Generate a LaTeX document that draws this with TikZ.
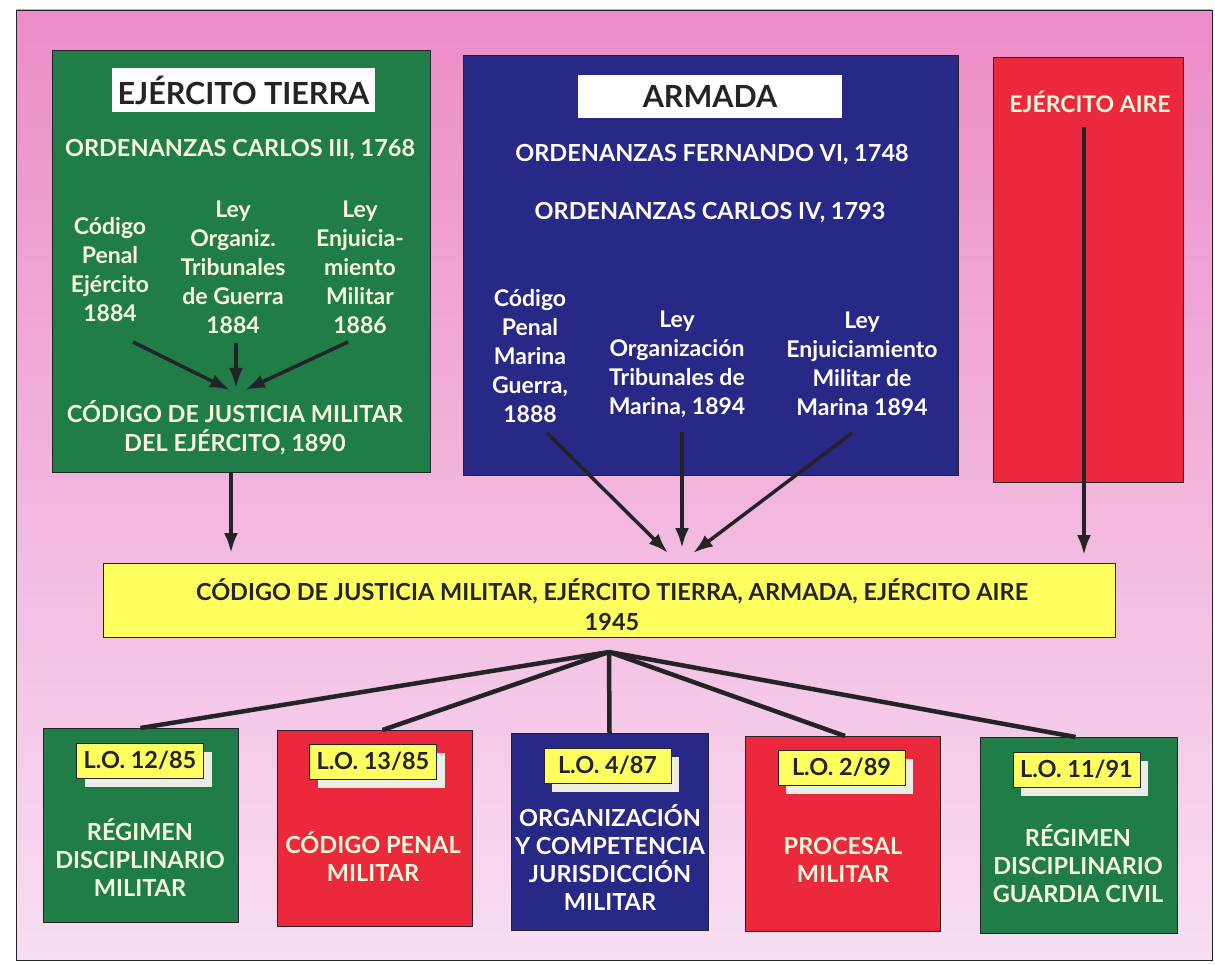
\documentclass[tikz,border=0pt]{standalone}
\usepackage{fontspec}
\setmainfont{Lato}
\usetikzlibrary{arrows.meta,shadows}
\definecolor{tgreen}{RGB}{32,125,72}
\definecolor{anavy}{RGB}{40,40,135}
\definecolor{ared}{RGB}{236,40,60}
\definecolor{byellow}{RGB}{255,255,95}
\definecolor{cream}{RGB}{248,248,218}
\definecolor{pinktop}{RGB}{236,140,200}
\definecolor{pinkbot}{RGB}{248,222,242}
\definecolor{ink}{RGB}{35,35,40}
\definecolor{shadowc}{RGB}{236,238,230}
\tikzset{
 panel/.style={draw=ink, line width=0.8pt, inner sep=0pt, outer sep=0pt},
 ttl/.style={fill=white, draw=none, inner sep=0pt, font=\fontsize{30.5}{34}\selectfont\bfseries, text=ink},
 txt/.style={align=center, inner sep=0pt, font=\fontsize{23}{29}\selectfont\bfseries},
 captxt/.style={align=center, inner sep=0pt, font=\fontsize{23.5}{29}\selectfont\bfseries},
 smalltxt/.style={align=center, inner sep=0pt, font=\fontsize{23.5}{28}\selectfont\bfseries},
 arr/.style={draw=ink, line width=3.5pt, -{Latex[length=20pt,width=14pt]}},
 fan/.style={draw=ink, line width=4.5pt},
 lbl/.style={fill=byellow, draw=ink, line width=0.8pt, minimum width=127pt, minimum height=35pt, inner sep=0pt, font=\fontsize{23.5}{26}\selectfont\bfseries, text=ink, drop shadow={shadow xshift=8pt, shadow yshift=-9pt, fill=shadowc, opacity=1}},
}
\begin{document}
\begin{tikzpicture}[x=1pt,y=-1pt]
\useasboundingbox (0,0) rectangle (1215,965);
\fill[white] (0,0) rectangle (1215,965);
\shade[top color=pinktop, bottom color=pinkbot, draw=ink, line width=0.8pt] (16,10) rectangle (1212,960);

% Ejercito Tierra
\node[panel, fill=tgreen, minimum width=378pt, minimum height=422pt] (tierra) at (241,261) {};
\node[ttl, minimum width=263pt, minimum height=44pt] (tierrat) at (243.5,90) {EJÉRCITO TIERRA};
\node[captxt, text=cream] (ord3) at (240,150) {ORDENANZAS CARLOS III, 1768};
\node[txt, text=cream] (cpe) at (110,270) {Código\\Penal\\Ejército\\1884};
\node[txt, text=cream] (lot) at (233,267) {Ley\\Organiz.\\Tribunales\\de Guerra\\1884};
\node[txt, text=cream] (lem) at (360,267) {Ley\\Enjuicia-\\miento\\Militar\\1886};
\node[captxt, text=cream] (cjm) at (235,428) {CÓDIGO DE JUSTICIA MILITAR\\DEL EJÉRCITO, 1890};
\coordinate (t1s) at (133,342);
\coordinate (t2s) at (236,343);
\coordinate (t3s) at (348,342);
\coordinate (t1e) at (230,390);
\coordinate (t2e) at (236,388);
\coordinate (t3e) at (245,390);
\draw[arr] (t1s) -- (t1e);
\draw[arr] (t2s) -- (t2e);
\draw[arr] (t3s) -- (t3e);

% Armada
\node[panel, fill=anavy, minimum width=495pt, minimum height=420pt] (armada) at (710.5,265) {};
\node[ttl, minimum width=264pt, minimum height=43pt] (armadat) at (710,96.5) {ARMADA};
\node[captxt, text=white] (ofe) at (712,155) {ORDENANZAS FERNANDO VI, 1748};
\node[captxt, text=white] (oca) at (710,213) {ORDENANZAS CARLOS IV, 1793};
\node[txt, text=white] (cpm) at (530,356) {Código\\Penal\\Marina\\Guerra,\\1888};
\node[txt, text=white] (lotm) at (677,364) {Ley\\Organización\\Tribunales de\\Marina, 1894};
\node[txt, text=white] (lemm) at (862,364) {Ley\\Enjuiciamiento\\Militar de\\Marina 1894};

% Ejercito Aire
\node[panel, fill=ared, minimum width=190pt, minimum height=425pt] (aire) at (1088,269.5) {};
\node[txt, text=cream, font=\fontsize{23}{26}\selectfont\bfseries] (airet) at (1090,102) {EJÉRCITO AIRE};

% Codigo 1945
\node[panel, fill=byellow, minimum width=1012pt, minimum height=74pt] (bar) at (609,600) {};
\node[txt, text=ink, font=\fontsize{23.5}{30}\selectfont\bfseries] (bart) at (612,605) {CÓDIGO DE JUSTICIA MILITAR, EJÉRCITO TIERRA, ARMADA, EJÉRCITO AIRE\\1945};

% arrows into bar
\draw[arr, shorten >=10pt] ([xshift=-10pt]tierra.south) -- ([xshift=-10pt]tierra.south |- bar.north);
\coordinate (a1s) at (547,433);
\coordinate (a2s) at (682,432);
\coordinate (a3s) at (852,433);
\draw[arr] (a1s) -- ([xshift=59pt,yshift=10pt]bar.north);
\draw[arr] (a2s) -- ([xshift=73pt,yshift=15pt]bar.north);
\draw[arr] (a3s) -- ([xshift=84pt,yshift=10pt]bar.north);
\coordinate (airel) at ([xshift=-6pt,yshift=-14pt]airet.south);
\draw[arr, shorten >=8pt] (airel) -- (airel |- bar.north);

% bottom boxes
\node[panel, fill=tgreen, minimum width=195pt, minimum height=194pt] (b1) at (140.5,825) {};
\node[panel, fill=ared, minimum width=195pt, minimum height=196pt] (b2) at (374.5,828) {};
\node[panel, fill=anavy, minimum width=197pt, minimum height=197pt] (b3) at (609.5,831.5) {};
\node[panel, fill=ared, minimum width=195pt, minimum height=195pt] (b4) at (843,833.5) {};
\node[panel, fill=tgreen, minimum width=197pt, minimum height=196pt] (b5) at (1078.5,835) {};

\coordinate (hub) at ([yshift=-15pt]bar.south);
\draw[fan] (hub) -- (b1.north);
\draw[fan] (hub) -- ([xshift=8pt]b2.north);
\draw[fan] (hub) -- (b3.north);
\draw[fan] (hub) -- ([xshift=2pt]b4.north);
\draw[fan] (hub) -- ([xshift=-3pt]b5.north);

\node[lbl] (l1) at (140,760.5) {L.O. 12/85};
\node[lbl] (l2) at (373,761.5) {L.O. 13/85};
\node[lbl] (l3) at (607.5,765.5) {L.O. 4/87};
\node[lbl] (l4) at (841.5,767.5) {L.O. 2/89};
\node[lbl] (l5) at (1076.5,769.5) {L.O. 11/91};

\node[smalltxt, text=cream] (bt1) at (140,858) {RÉGIMEN\\DISCIPLINARIO\\MILITAR};
\node[smalltxt, text=cream] (bt2) at (373,857) {CÓDIGO PENAL\\MILITAR};
\node[smalltxt, text=white] (bt3) at (610,858) {ORGANIZACIÓN\\Y COMPETENCIA\\JURISDICCIÓN\\MILITAR};
\node[smalltxt, text=cream] (bt4) at (843,860) {PROCESAL\\MILITAR};
\node[smalltxt, text=cream] (bt5) at (1078,864) {RÉGIMEN\\DISCIPLINARIO\\GUARDIA CIVIL};
\end{tikzpicture}
\end{document}
